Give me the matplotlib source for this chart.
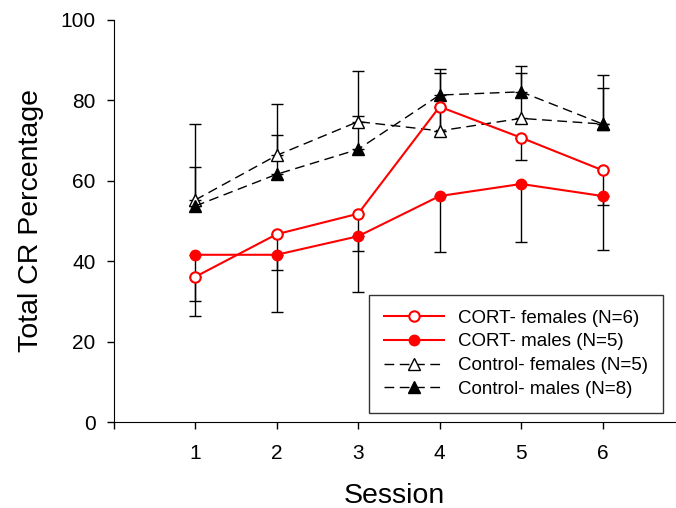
import matplotlib
matplotlib.use('Agg')
import matplotlib.pyplot as plt
import numpy as np

plt.rcParams['font.family'] = ['Liberation Sans', 'DejaVu Sans']

# 数据
sessions = [1, 2, 3, 4, 5, 6]

cort_f = [36.1, 46.7, 51.8, 78.4, 70.7, 62.6]
cort_f_err = [5.9, 8.9, 9.2, 6.0, 5.6, 8.7]      # 向下误差
cort_m = [41.6, 41.6, 46.2, 56.2, 59.2, 56.2]
cort_m_err = [15.1, 14.3, 13.8, 13.9, 14.5, 13.4]

ctrl_f = [55.2, 66.3, 74.7, 72.4, 75.5, 74.1]
ctrl_f_err = [18.9, 12.7, 12.5, 15.3, 12.9, 12.3]  # 向上误差
ctrl_m = [53.7, 61.6, 67.8, 81.3, 82.1, 74.1]
ctrl_m_err = [9.7, 9.7, 8.3, 5.6, 4.6, 9.0]

labels = ['CORT- females (N=6)', 'CORT- males (N=5)',
          'Control- females (N=5)', 'Control- males (N=8)']

fig = plt.figure(figsize=(6.76, 5.08), dpi=100)
ax = fig.add_axes([0.168, 0.169, 0.832, 0.792])

zeros = np.zeros(len(sessions))

# 误差线（单侧，黑色）
eb = dict(fmt='none', ecolor='black', elinewidth=1, capsize=4.5, capthick=1, zorder=1)
ax.errorbar(sessions, cort_f, yerr=[cort_f_err, zeros], **eb)
ax.errorbar(sessions, cort_m, yerr=[cort_m_err, zeros], **eb)
ax.errorbar(sessions, ctrl_f, yerr=[zeros, ctrl_f_err], **eb)
ax.errorbar(sessions, ctrl_m, yerr=[zeros, ctrl_m_err], **eb)

# 折线
ax.plot(sessions, cort_f, color='red', lw=1.5, marker='o', ms=7.5,
        mfc='white', mec='red', mew=1.5, label=labels[0], zorder=3)
ax.plot(sessions, cort_m, color='red', lw=1.5, marker='o', ms=7.5,
        mfc='red', mec='red', label=labels[1], zorder=3)
ax.plot(sessions, ctrl_f, color='black', lw=1, dashes=(7, 4), marker='^', ms=8,
        mfc='white', mec='black', mew=1, label=labels[2], zorder=2)
ax.plot(sessions, ctrl_m, color='black', lw=1, dashes=(7, 4), marker='^', ms=8,
        mfc='black', mec='black', label=labels[3], zorder=2)

ax.set_xlim(0, 6.9)
ax.set_ylim(0, 100)
ax.set_xticks([0, 1, 2, 3, 4, 5, 6])
ax.set_xticklabels(['', '1', '2', '3', '4', '5', '6'])
ax.set_yticks([0, 20, 40, 60, 80, 100])
ax.tick_params(direction='out', length=5, width=1, labelsize=15, pad=8)
ax.tick_params(axis='x', pad=11)

ax.spines['top'].set_visible(False)
ax.spines['right'].set_visible(False)

ax.set_xlabel('Session', fontsize=20.5, labelpad=14)
ax.set_ylabel('Total CR Percentage', fontsize=20.5, labelpad=12)

leg = ax.legend(loc='lower right', bbox_to_anchor=(0.994, 0.0), fontsize=13.5,
                frameon=True, fancybox=False, edgecolor='black',
                handlelength=3.2, borderpad=0.8, labelspacing=0.35, handletextpad=0.75)
leg.get_frame().set_linewidth(1)

fig.savefig('out.png', dpi=100)
